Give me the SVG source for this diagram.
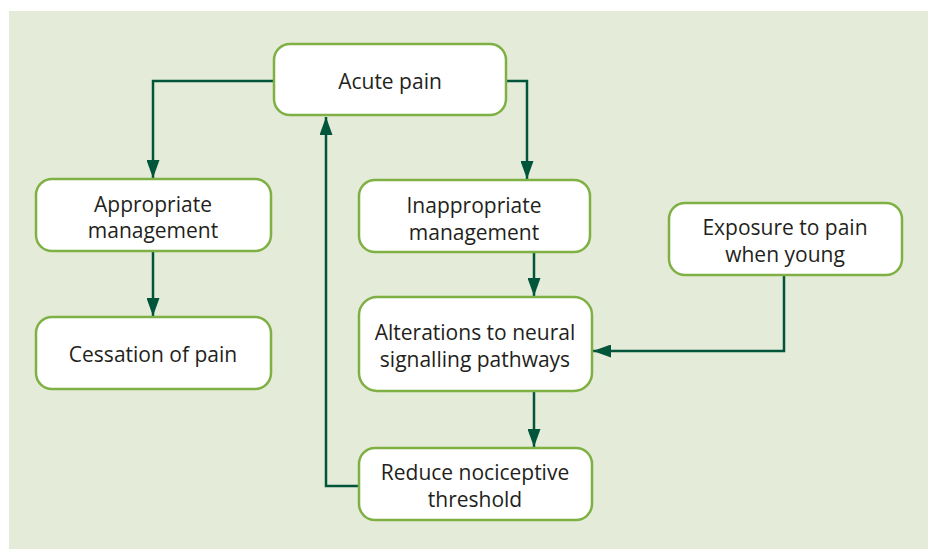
<svg xmlns="http://www.w3.org/2000/svg" width="928" height="549" viewBox="0 0 928 549">
<style>
.box{fill:#ffffff;stroke:#7fb043;stroke-width:2.5}
.t{font-family:"Open Sans","Noto Sans",sans-serif;font-size:21px;fill:#231f20;text-anchor:middle}
.c{fill:none;stroke:#00553a;stroke-width:2.5}
</style>
<defs>
<marker id="ah" markerWidth="18" markerHeight="13" refX="18" refY="6.5" viewBox="0 0 18 13" orient="auto" markerUnits="userSpaceOnUse">
<path d="M0,0 L18,6.5 L0,13 Z" fill="#00553a"/>
</marker>
</defs>
<rect x="9" y="11" width="919" height="538" fill="#e5ebd9"/>
<g id="connectors">
<path class="c" d="M274,81 H153 V178" marker-end="url(#ah)"/>
<path class="c" d="M506,81 H527 V179" marker-end="url(#ah)"/>
<path class="c" d="M153,251 V316" marker-end="url(#ah)"/>
<path class="c" d="M534,252 V296" marker-end="url(#ah)"/>
<path class="c" d="M534,391 V447" marker-end="url(#ah)"/>
<path class="c" d="M784,275 V351 H593" marker-end="url(#ah)"/>
<path class="c" d="M359,486 H326 V117" marker-end="url(#ah)"/>
</g>
<g id="acute">
<rect class="box" x="274" y="44" width="232" height="71" rx="16"/>
<text class="t" x="390" y="89">Acute pain</text>
</g>
<g id="appropriate">
<rect class="box" x="36" y="179" width="235" height="72" rx="16"/>
<text class="t" x="153" y="212">Appropriate</text>
<text class="t" x="153" y="238">management</text>
</g>
<g id="cessation">
<rect class="box" x="36" y="317" width="235" height="72" rx="16"/>
<text class="t" x="153" y="362">Cessation of pain</text>
</g>
<g id="inappropriate">
<rect class="box" x="359" y="180" width="231" height="72" rx="16"/>
<text class="t" x="474" y="213">Inappropriate</text>
<text class="t" x="474" y="240">management</text>
</g>
<g id="alterations">
<rect class="box" x="359" y="297" width="233" height="94" rx="18"/>
<text class="t" x="475" y="340">Alterations to neural</text>
<text class="t" x="475" y="367">signalling pathways</text>
</g>
<g id="reduce">
<rect class="box" x="359" y="448" width="233" height="72" rx="16"/>
<text class="t" x="475" y="480">Reduce nociceptive</text>
<text class="t" x="475" y="507">threshold</text>
</g>
<g id="exposure">
<rect class="box" x="669" y="203" width="233" height="72" rx="16"/>
<text class="t" x="785" y="235">Exposure to pain</text>
<text class="t" x="785" y="262">when young</text>
</g>
</svg>
